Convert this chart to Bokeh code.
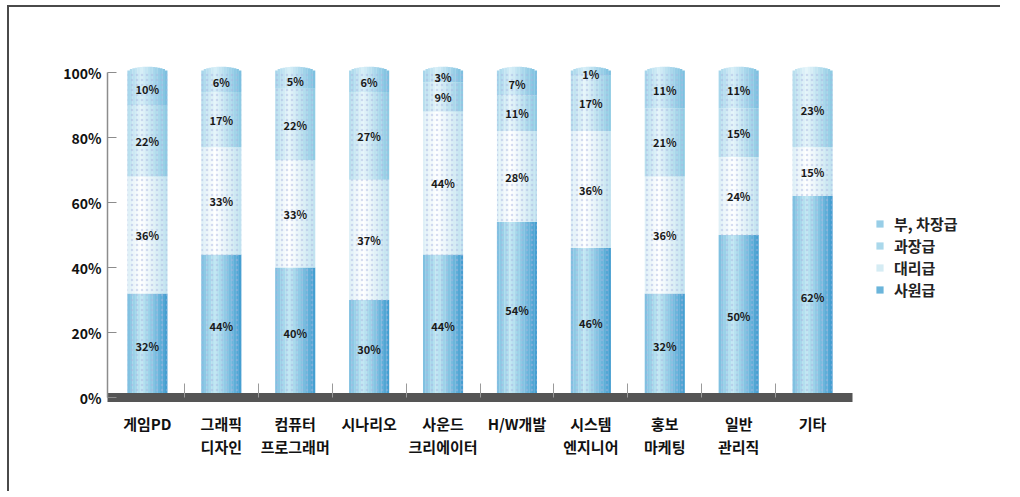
import numpy as np
from bokeh.plotting import figure
from bokeh.models import ColumnDataSource, Range1d, FixedTicker, Legend, LegendItem
from bokeh.core.properties import value
from bokeh.embed import file_html
from bokeh.resources import INLINE

# ---------------- data ----------------
categories = ["게임PD", "그래픽\n디자인", "컴퓨터\n프로그래머", "시나리오", "사운드\n크리에이터",
              "H/W개발", "시스템\n엔지니어", "홍보\n마케팅", "일반\n관리직", "기타"]
series_names = ["사원급", "대리급", "과장급", "부, 차장급"]          # bottom -> top
staff     = [32, 44, 40, 30, 44, 54, 46, 32, 50, 62]   # 사원급
assistant = [36, 33, 33, 37, 44, 28, 36, 36, 24, 15]   # 대리급
manager   = [22, 17, 22, 27,  9, 11, 17, 21, 15, 23]   # 과장급
senior    = [10,  6,  5,  6,  3,  7,  1, 11, 11,  0]   # 부, 차장급
y_ticks = [0, 20, 40, 60, 80, 100]
y_tick_labels = ["0%", "20%", "40%", "60%", "80%", "100%"]

# ---------------- styles ----------------
FONT = "Noto Sans CJK KR"
hi_colors = ["#c2e8f3", "#ffffff", "#e6f5fa", "#d6eef7"]
lo_colors = ["#3f9bcf", "#bfe2ef", "#8ccae3", "#78bedf"]
BW = 0.54
N = 16
CAP = 1.8
LEGEND_STRIP = 12   # strip whose colour is shown in the legend

def hexrgb(h):
    h = h.lstrip("#")
    return np.array([int(h[i:i + 2], 16) for i in (0, 2, 4)], dtype=float)

def shade(hi, lo, t):
    if t < 0.35:
        w = (0.35 - t) / 0.35 * 0.55
    else:
        w = (t - 0.35) / 0.65
    c = hexrgb(hi) * (1 - w) + hexrgb(lo) * w
    return "#%02x%02x%02x" % tuple(int(round(v)) for v in c)

layers = [staff, assistant, manager, senior]
n = len(categories)

strips = [dict(x=[], bottom=[], top=[], color=[]) for _ in range(4)]
hx, hb, ht = [], [], []
lx, ly, lt = [], [], []
sw = BW / N
for i in range(n):
    base = 0.0
    top_layer = max(k for k in range(4) if layers[k][i] > 0)
    for k in range(4):
        v = layers[k][i]
        if v <= 0:
            continue
        bot, top = base, base + v
        for j in range(N):
            t = (j + 0.5) / N
            strips[k]["x"].append(i - BW / 2 + (j + 0.5) * sw)
            strips[k]["bottom"].append(bot)
            extra = CAP * np.sqrt(max(0.0, 1 - (2 * t - 1) ** 2)) if k == top_layer else 0.0
            strips[k]["top"].append(top + extra)
            strips[k]["color"].append(shade(hi_colors[k], lo_colors[k], t))
        hx.append(i); hb.append(bot); ht.append(top)
        lx.append(i); ly.append((bot + top) / 2); lt.append(f"{v}%")
        base = top

hatch_src = ColumnDataSource(dict(x=hx, bottom=hb, top=ht))
label_src = ColumnDataSource(dict(x=lx, y=ly, text=lt))

PX_PER_UNIT = 745 / 10.08
W, H = 993, 486
FRAME_W = W - 98 - 5
x_start = -0.54
x_end = x_start + FRAME_W / PX_PER_UNIT

p = figure(width=W, height=H, x_range=Range1d(x_start, x_end), y_range=Range1d(0, 104),
           output_backend="svg", toolbar_location=None,
           min_border_left=98, min_border_right=5, min_border_top=52, min_border_bottom=96,
           outline_line_color=None, background_fill_color="white", border_fill_color="white")
p.styles = {"border-top": "2px solid #4a4a4a", "border-left": "2px solid #4a4a4a",
            "margin-left": "7px", "margin-top": "5px"}

renderers = []
for k in range(4):
    r = p.vbar(x="x", bottom="bottom", top="top", width=sw * 1.08, fill_color="color",
               line_color=None, source=ColumnDataSource(strips[k]))
    renderers.append(r)
p.vbar(x="x", bottom="bottom", top="top", width=BW, fill_alpha=0, line_color=None,
       hatch_pattern="dot", hatch_color="#a9b4e0", hatch_alpha=0.45, hatch_scale=5,
       hatch_weight=1.2, source=hatch_src)
p.text(x="x", y="y", text="text", source=label_src, text_align="center",
       text_baseline="middle", text_font=value(FONT), text_font_style="bold",
       text_font_size="11px", text_color="#1a1a1a")

# legend
items = [LegendItem(label=series_names[k], renderers=[renderers[k]], index=LEGEND_STRIP)
         for k in [3, 2, 1, 0]]
legend = Legend(items=items, location=(768, 97), border_line_color=None,
                background_fill_alpha=0, padding=0, margin=0, spacing=1,
                glyph_width=9, glyph_height=9, label_height=16, label_standoff=10,
                label_text_font=FONT, label_text_font_style="bold",
                label_text_font_size="15px", label_text_color="#222222")
p.add_layout(legend, "center")

# axes
p.xgrid.grid_line_color = None
p.ygrid.grid_line_color = None

ya = p.yaxis[0]
ya.ticker = FixedTicker(ticks=y_ticks, minor_ticks=[])
ya.major_label_overrides = dict(zip(y_ticks, y_tick_labels))
ya.bounds = (0, 100)
ya.axis_line_color = "#8c8c8c"
ya.axis_line_width = 1.5
ya.major_tick_in = 9
ya.major_tick_out = 0
ya.major_tick_line_color = "#8c8c8c"
ya.minor_tick_line_color = None
ya.major_label_standoff = 6
ya.major_label_text_font = FONT
ya.major_label_text_font_style = "bold"
ya.major_label_text_font_size = "14px"
ya.major_label_text_color = "#111111"

xa = p.xaxis[0]
xa.ticker = FixedTicker(ticks=list(range(n)), minor_ticks=[i + 0.5 for i in range(n - 1)])
xa.major_label_overrides = {i: c for i, c in enumerate(categories)}
xa.bounds = (x_start, 9.54)
xa.axis_line_color = "#555555"
xa.axis_line_width = 9
xa.major_tick_line_color = None
xa.minor_tick_in = 14
xa.minor_tick_out = 0
xa.minor_tick_line_color = "#9a9a9a"
xa.major_label_standoff = 9
xa.major_label_text_font = FONT
xa.major_label_text_font_style = "bold"
xa.major_label_text_font_size = "15px"
xa.major_label_text_color = "#111111"
xa.major_label_text_line_height = 1.1

open("out.html", "w").write(file_html(p, INLINE))
